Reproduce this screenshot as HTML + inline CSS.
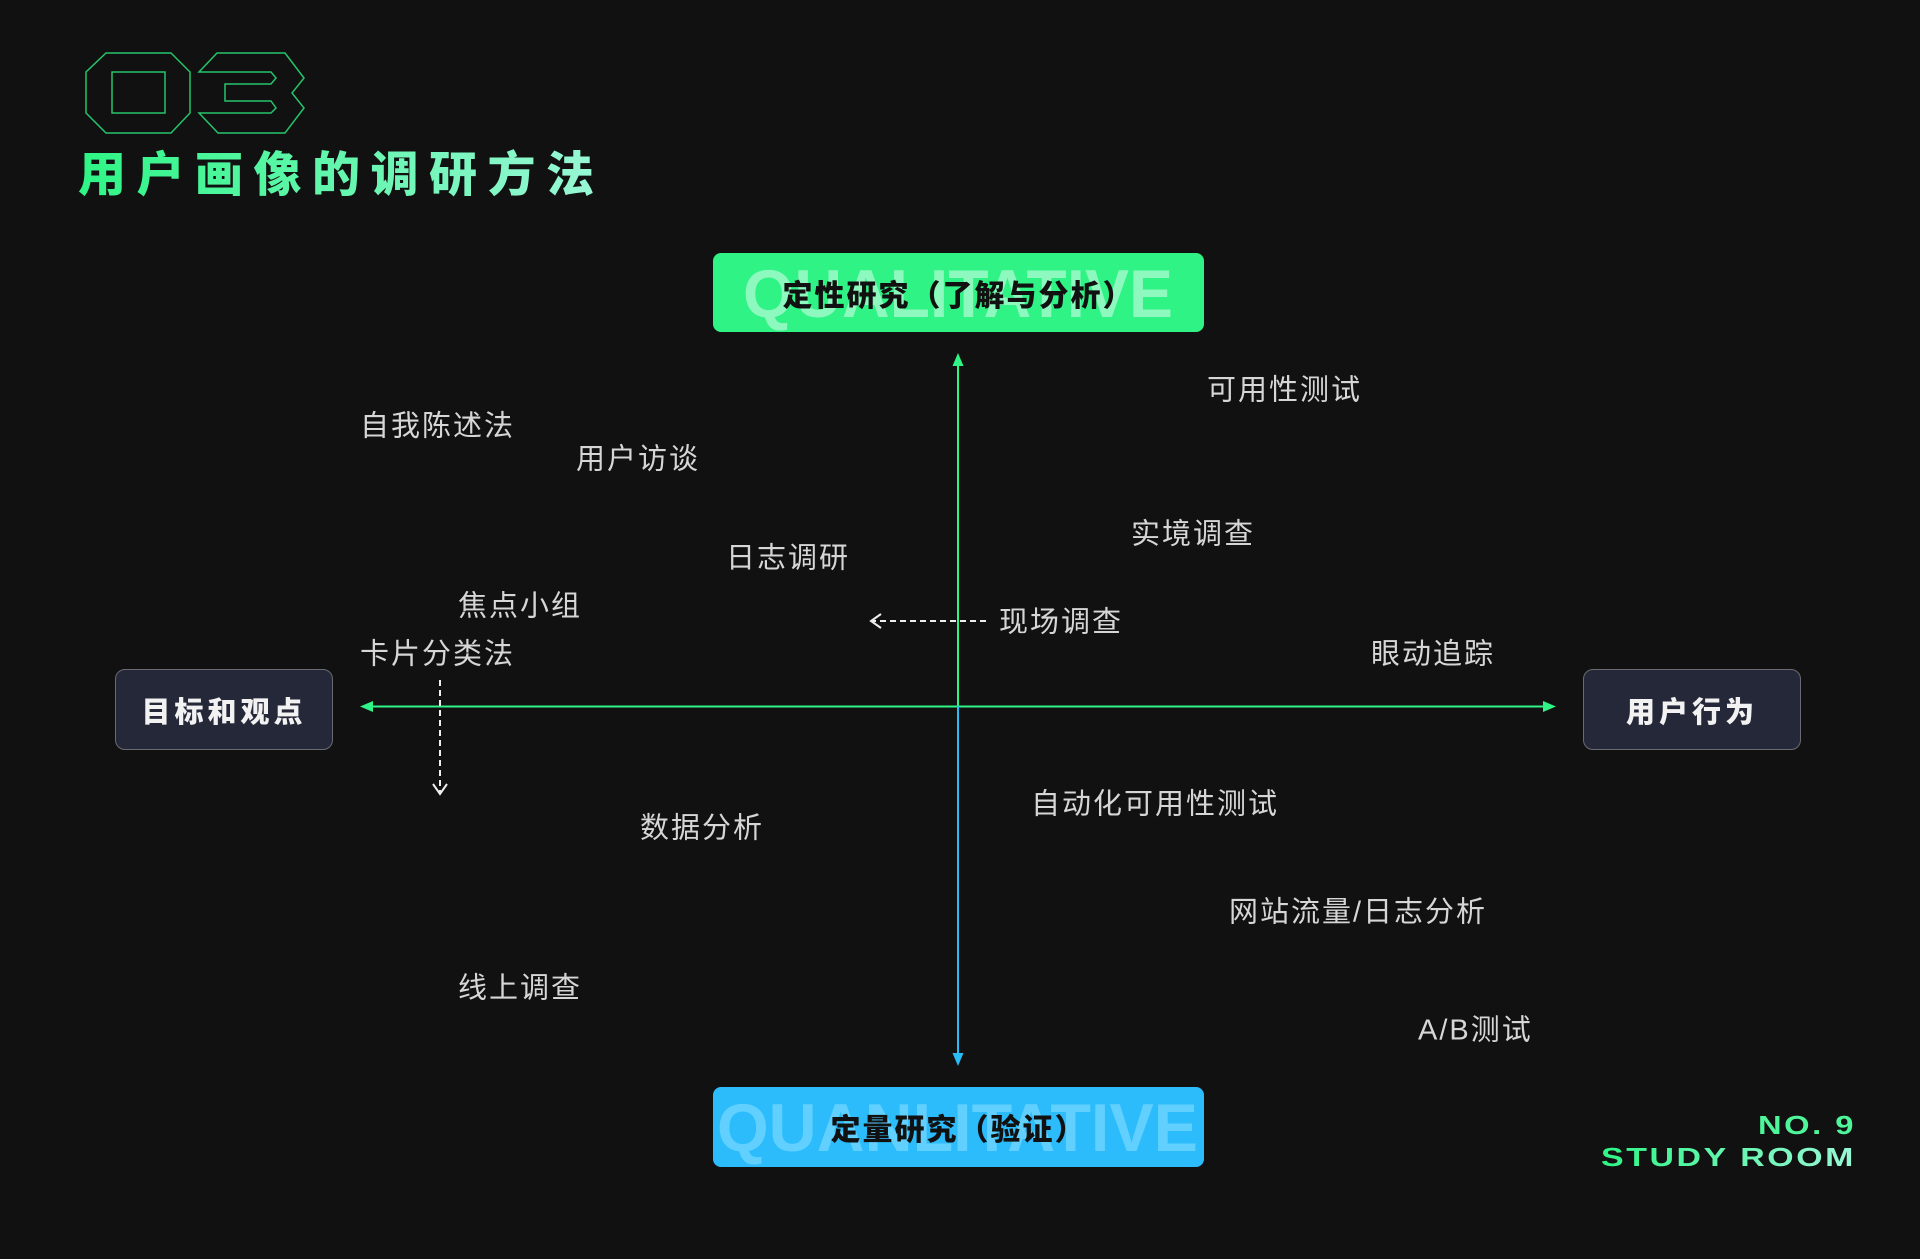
<!DOCTYPE html>
<html><head><meta charset="utf-8"><style>
html,body{margin:0;padding:0;background:#111111;}
body{width:1920px;height:1259px;position:relative;overflow:hidden;font-family:"Liberation Sans","Noto Sans CJK SC",sans-serif;}
.t{position:absolute;color:#d6d6d6;font-size:29px;line-height:1;white-space:nowrap;transform:translateY(-50%);margin-top:2px;letter-spacing:2px;font-family:"Liberation Sans","Noto Sans CJK SC",sans-serif;}
.box{position:absolute;border-radius:8px;display:flex;align-items:center;justify-content:center;overflow:hidden;}
.lab{position:relative;font-weight:900;font-size:30px;color:#111;font-family:"Liberation Sans","Noto Sans CJK SC",sans-serif;letter-spacing:2px;}
.side{position:absolute;background:#252838;border:1.5px solid #6a6a72;border-radius:10px;display:flex;align-items:center;justify-content:center;color:#f2f2f2;font-weight:900;font-size:29px;letter-spacing:4px;box-sizing:border-box;}
</style></head><body>
<svg width="1920" height="1259" style="position:absolute;left:0;top:0">
<defs>
<linearGradient id="tg" x1="0" x2="1"><stop offset="0" stop-color="#2ef585"/><stop offset="1" stop-color="#9af7d7"/></linearGradient>
</defs>
<polygon points="106,53 171,53 190,72 190,113 171,133 106,133 86,113 86,72" fill="none" stroke="#25c46a" stroke-width="1.5"/>
<rect x="112" y="72" width="53" height="41" fill="none" stroke="#25c46a" stroke-width="1.5"/>
<polygon points="217,53 285,53 304,78 292,93 304,108 285,133 218,133 199,113 271,113 276,108 271,101 225,101 225,84 271,84 276,78 271,72 199,72" fill="none" stroke="#25c46a" stroke-width="1.5"/>
<rect x="713" y="253" width="491" height="79" rx="8" fill="#30f386"/>
<text x="743" y="317" font-family="Liberation Sans" font-weight="bold" font-size="68" fill="#8ef9bf" textLength="430" lengthAdjust="spacingAndGlyphs">QUALITATIVE</text>
<rect x="713" y="1087" width="491" height="80" rx="8" fill="#2cbcfc"/>
<text x="717" y="1151" font-family="Liberation Sans" font-weight="bold" font-size="68" fill="#62d0fe" textLength="481" lengthAdjust="spacingAndGlyphs">QUANLITATIVE</text>
<line x1="368" y1="706.5" x2="1548" y2="706.5" stroke="#2ef585" stroke-width="2"/>
<polygon points="360,706.5 373,701 373,712" fill="#2ef585"/>
<polygon points="1556,706.5 1543,701 1543,712" fill="#2ef585"/>
<line x1="958" y1="362" x2="958" y2="706" stroke="#2ef585" stroke-width="2"/>
<polygon points="958,353 952.5,366 963.5,366" fill="#2ef585"/>
<line x1="958" y1="706" x2="958" y2="1056" stroke="#2bbcf5" stroke-width="2"/>
<polygon points="958,1066 952.5,1053 963.5,1053" fill="#2bbcf5"/>
<line x1="986" y1="621" x2="873" y2="621" stroke="#eee" stroke-width="2" stroke-dasharray="6,4"/>
<polyline points="881,614 871,621 881,628" fill="none" stroke="#eee" stroke-width="2"/>
<line x1="440" y1="680" x2="440" y2="793" stroke="#eee" stroke-width="2" stroke-dasharray="6,4"/>
<polyline points="433,784 440,794 447,784" fill="none" stroke="#eee" stroke-width="2"/>
<text x="1856" y="1134" text-anchor="end" font-family="Liberation Sans" font-weight="bold" font-size="26" fill="#4ff59a" letter-spacing="2" textLength="98" lengthAdjust="spacingAndGlyphs">NO. 9</text>
<text x="1856" y="1166" text-anchor="end" font-family="Liberation Sans" font-weight="bold" font-size="26" fill="url(#tg)" letter-spacing="2" textLength="255" lengthAdjust="spacingAndGlyphs">STUDY ROOM</text>
</svg>
<div style="position:absolute;left:78px;top:146px;font-size:48px;font-weight:900;letter-spacing:10.5px;background:linear-gradient(90deg,#2ef585,#9af7d7);-webkit-background-clip:text;background-clip:text;color:transparent;font-family:'Liberation Sans','Noto Sans CJK SC',sans-serif;line-height:60px;">用户画像的调研方法</div>

<div class="box" style="left:713px;top:253px;width:491px;height:79px;">
<div class="lab">定性研究（了解与分析）</div></div>
<div class="box" style="left:713px;top:1087px;width:491px;height:80px;">
<div class="lab">定量研究（验证）</div></div>

<div class="side" style="left:115px;top:669px;width:218px;height:81px;">目标和观点</div>
<div class="side" style="left:1583px;top:669px;width:218px;height:81px;">用户行为</div>

<div class="t" style="left:1207px;top:389px">可用性测试</div>
<div class="t" style="left:360px;top:425px">自我陈述法</div>
<div class="t" style="left:576px;top:458px">用户访谈</div>
<div class="t" style="left:1131px;top:533px">实境调查</div>
<div class="t" style="left:726px;top:557px">日志调研</div>
<div class="t" style="left:458px;top:605px">焦点小组</div>
<div class="t" style="left:999px;top:621px">现场调查</div>
<div class="t" style="left:1371px;top:653px">眼动追踪</div>
<div class="t" style="left:360px;top:653px">卡片分类法</div>
<div class="t" style="left:1031px;top:803px">自动化可用性测试</div>
<div class="t" style="left:640px;top:827px">数据分析</div>
<div class="t" style="left:1229px;top:911px">网站流量/日志分析</div>
<div class="t" style="left:458px;top:987px">线上调查</div>
<div class="t" style="left:1418px;top:1029px">A/B测试</div>
</body></html>
